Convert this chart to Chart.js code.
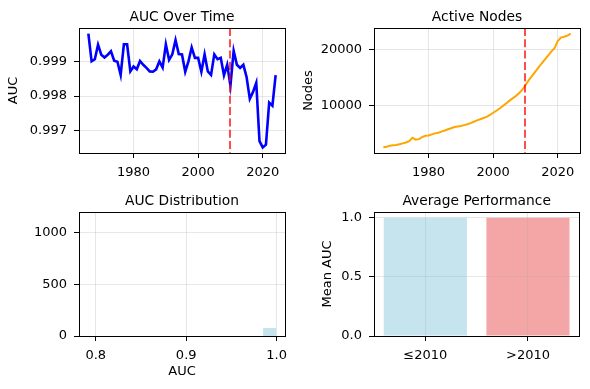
<!DOCTYPE html>
<html>
<head>
<meta charset="utf-8">
<script src="https://cdn.jsdelivr.net/npm/chart.js@4.4.1/dist/chart.umd.min.js"></script>
<style>
  body { margin: 0; background: #fff; }
  #fig { position: relative; width: 590px; height: 389px; background: #fff; }
  canvas { position: absolute; }
</style>
</head>
<body>
<div id="fig">
  <canvas id="aucChart" width="295" height="195" style="left:0;top:0"></canvas>
  <canvas id="nodesChart" width="295" height="195" style="left:295px;top:0"></canvas>
  <canvas id="histChart" width="295" height="194" style="left:0;top:195px"></canvas>
  <canvas id="barChart" width="295" height="194" style="left:295px;top:195px"></canvas>
</div>
<script>
const years = [1966, 1967, 1968, 1969, 1970, 1971, 1972, 1973, 1974, 1975,
    1976, 1977, 1978, 1979, 1980, 1981, 1982, 1983, 1984, 1985,
    1986, 1987, 1988, 1989, 1990, 1991, 1992, 1993, 1994, 1995,
    1996, 1997, 1998, 1999, 2000, 2001, 2002, 2003, 2004, 2005,
    2006, 2007, 2008, 2009, 2010, 2011, 2012, 2013, 2014, 2015,
    2016, 2017, 2018, 2019, 2020, 2021, 2022, 2023, 2024];
const auc = [0.99980, 0.99900, 0.99906, 0.99948, 0.99919, 0.99911, 0.99919, 0.99929, 0.99902, 0.99899,
    0.99861, 0.99949, 0.99949, 0.99871, 0.99885, 0.99877, 0.99901, 0.99890, 0.99881, 0.99871,
    0.99870, 0.99877, 0.99900, 0.99882, 0.99949, 0.99904, 0.99920, 0.99961, 0.99921, 0.99920,
    0.99870, 0.99900, 0.99940, 0.99910, 0.99910, 0.99870, 0.99920, 0.99871, 0.99861, 0.99920,
    0.99906, 0.99910, 0.99860, 0.99890, 0.99830, 0.99930, 0.99890, 0.99881, 0.99890, 0.99855,
    0.99792, 0.99812, 0.99838, 0.99670, 0.99652, 0.99660, 0.99781, 0.99772, 0.99860];
const nodes = [2600, 2700, 2900, 2950, 3000, 3150, 3300, 3450, 3700, 4300,
    3950, 4050, 4400, 4650, 4700, 4900, 5080, 5200, 5380, 5600,
    5800, 6000, 6200, 6300, 6400, 6550, 6700, 6900, 7150, 7400,
    7600, 7800, 8000, 8350, 8750, 9100, 9500, 9950, 10400, 10850,
    11300, 11700, 12200, 12800, 13650, 14500, 15250, 16000, 16750, 17500,
    18200, 18900, 19600, 20200, 21500, 22100, 22250, 22450, 22800];
const splitYear = 2010;

const histEdges = [0.985, 0.9993];
const histCounts = [77];

const periods = ['≤2010', '>2010'];
const meanAuc = [0.9990, 0.9982];

const yearTicks = [1980, 2000, 2020];
const aucTicks = [0.997, 0.998, 0.999];
const nodeTicks = [10000, 20000];
const histXTicks = [0.8, 0.9, 1.0];
const histYTicks = [0, 500, 1000];
const meanTicks = [0, 0.5, 1.0];

Chart.defaults.font.family = '"DejaVu Sans", sans-serif';
Chart.defaults.font.size = 13;
Chart.defaults.color = '#000';

const GRID = 'rgba(176,176,176,0.3)';

// frame, panel title and the dashed split line
const framePlugin = {
    id: 'frame',
    afterDatasetsDraw(chart, args, opts) {
        if (opts.split == null) return;
        const { ctx, chartArea: a } = chart;
        const x = Math.round(chart.scales.x.getPixelForValue(opts.split));
        ctx.save();
        ctx.strokeStyle = 'rgba(255,0,0,0.7)';
        ctx.lineWidth = 2;
        ctx.setLineDash([8, 3.3]);
        ctx.beginPath();
        ctx.moveTo(x, a.top);
        ctx.lineTo(x, a.bottom);
        ctx.stroke();
        ctx.restore();
    },
    afterDraw(chart, args, opts) {
        const { ctx, chartArea: a } = chart;
        const l = Math.round(a.left), t = Math.round(a.top);
        const r = Math.round(a.right), b = Math.round(a.bottom);
        ctx.save();
        ctx.strokeStyle = '#000';
        ctx.lineWidth = 1;
        ctx.strokeRect(l + 0.5, t + 0.5, r - l, b - t);
        ctx.fillStyle = '#000';
        ctx.font = '13.8px "DejaVu Sans", sans-serif';
        ctx.textAlign = 'center';
        ctx.textBaseline = 'alphabetic';
        ctx.fillText(opts.title, (a.left + a.right) / 2, a.top - 7);
        ctx.restore();
    }
};

function gridOpts(z) {
    return { color: GRID, tickColor: '#000', tickLength: 5, lineWidth: 1, z: z };
}

function linAxis(min, max, ticks, fmt, size, extra) {
    const isY = extra.axis === 'y';
    return Object.assign({
        type: 'linear',
        min: min,
        max: max,
        afterBuildTicks: s => { s.ticks = ticks.map(v => ({ value: v })); },
        afterFit: s => { if (isY) s.width = size; else s.height = size; },
        ticks: { callback: v => fmt(v), autoSkip: false, maxRotation: 0, padding: 7 },
        grid: gridOpts(-1),
        border: { display: false }
    }, extra);
}

function yTitle(text, pad) {
    return { display: true, text: text, font: { size: 13 }, padding: { top: pad, bottom: 0 } };
}

const baseOptions = {
    responsive: false,
    animation: false,
    events: [],
    plugins: { legend: { display: false }, tooltip: { enabled: false } }
};

// AUC over time
new Chart(document.getElementById('aucChart'), {
    type: 'line',
    data: {
        datasets: [{
            data: years.map((y, i) => ({ x: y, y: auc[i] })),
            borderColor: '#0000ff',
            borderWidth: 2.6,
            pointRadius: 0,
            tension: 0
        }]
    },
    options: Object.assign({}, baseOptions, {
        layout: { padding: { top: 28, right: 10, left: 0, bottom: 0 } },
        plugins: Object.assign({}, baseOptions.plugins, { frame: { title: 'AUC Over Time', split: splitYear } }),
        scales: {
            x: linAxis(1963.1, 2026.9, yearTicks, v => String(v), 42, { axis: 'x' }),
            y: linAxis(0.99636, 0.99996, aucTicks, v => v.toFixed(3), 79,
                { axis: 'y', title: yTitle('AUC', 6) })
        }
    }),
    plugins: [framePlugin]
});

// Active nodes
new Chart(document.getElementById('nodesChart'), {
    type: 'line',
    data: {
        datasets: [{
            data: years.map((y, i) => ({ x: y, y: nodes[i] })),
            borderColor: '#ffa500',
            borderWidth: 2,
            pointRadius: 0,
            tension: 0
        }]
    },
    options: Object.assign({}, baseOptions, {
        layout: { padding: { top: 28, right: 10, left: 0, bottom: 0 } },
        plugins: Object.assign({}, baseOptions.plugins, { frame: { title: 'Active Nodes', split: splitYear } }),
        scales: {
            x: linAxis(1963.1, 2026.9, yearTicks, v => String(v), 42, { axis: 'x' }),
            y: linAxis(1590, 23810, nodeTicks, v => String(v), 79,
                { axis: 'y', title: yTitle('Nodes', 6) })
        }
    }),
    plugins: [framePlugin]
});

// AUC distribution (histogram bins drawn as filled outlines)
const histPoints = [];
histCounts.forEach((c, i) => {
    histPoints.push({ x: histEdges[i], y: 0 }, { x: histEdges[i], y: c },
        { x: histEdges[i + 1], y: c }, { x: histEdges[i + 1], y: 0 });
});

new Chart(document.getElementById('histChart'), {
    type: 'line',
    data: {
        datasets: [{
            data: histPoints,
            borderColor: 'rgba(0,0,0,0)',
            borderWidth: 0,
            backgroundColor: 'rgba(173,216,230,0.7)',
            fill: 'origin',
            pointRadius: 0,
            tension: 0
        }]
    },
    options: Object.assign({}, baseOptions, {
        layout: { padding: { top: 17, right: 10, left: 0, bottom: 0 } },
        plugins: Object.assign({}, baseOptions.plugins, { frame: { title: 'AUC Distribution' } }),
        scales: {
            x: linAxis(0.7815, 1.0092, histXTicks, v => v.toFixed(1), 53, {
                axis: 'x',
                grid: gridOpts(1),
                title: { display: true, text: 'AUC', font: { size: 13 }, padding: { top: 0, bottom: 10 } }
            }),
            y: linAxis(0, 1200, histYTicks, v => String(v), 79, { axis: 'y', grid: gridOpts(1) })
        }
    }),
    plugins: [framePlugin]
});

// Average performance
new Chart(document.getElementById('barChart'), {
    type: 'bar',
    data: {
        labels: periods,
        datasets: [{
            data: meanAuc,
            backgroundColor: ['rgba(173,216,230,0.7)', 'rgba(240,128,128,0.7)'],
            categoryPercentage: 1,
            barPercentage: 0.81
        }]
    },
    options: Object.assign({}, baseOptions, {
        layout: { padding: { top: 17, right: 10.7, left: 0, bottom: 0 } },
        plugins: Object.assign({}, baseOptions.plugins, { frame: { title: 'Average Performance' } }),
        scales: {
            x: {
                type: 'category',
                offset: true,
                afterFit: s => { s.height = 53; },
                ticks: { autoSkip: false, maxRotation: 0, padding: 7 },
                grid: Object.assign(gridOpts(1), { offset: false }),
                border: { display: false }
            },
            y: linAxis(0, 1.047, meanTicks, v => v.toFixed(1), 79,
                { axis: 'y', title: yTitle('Mean AUC', 25), grid: gridOpts(1) })
        }
    }),
    plugins: [framePlugin]
});
</script>
</body>
</html>
